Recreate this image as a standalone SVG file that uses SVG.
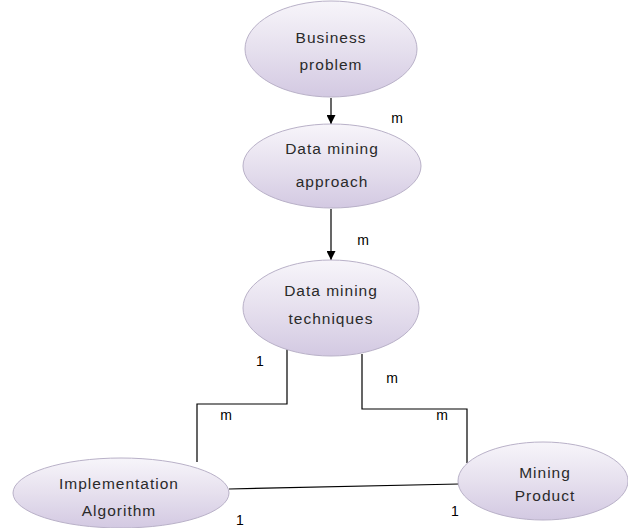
<svg xmlns="http://www.w3.org/2000/svg" width="628" height="528" viewBox="0 0 628 528">
<defs>
<linearGradient id="g" x1="0" y1="0" x2="0" y2="1">
<stop offset="0" stop-color="#f7f5fa"/>
<stop offset="0.5" stop-color="#e6e0ee"/>
<stop offset="1" stop-color="#d3c9e2"/>
</linearGradient>
<marker id="arr" viewBox="0 0 10 10" refX="10" refY="5" markerWidth="9" markerHeight="9" markerUnits="userSpaceOnUse" orient="auto">
<path d="M0,0 L10,5 L0,10 Z" fill="#000"/>
</marker>
<style>
.n{fill:url(#g);stroke:#b9b1c8;stroke-width:1}
.t{font-family:"Liberation Sans",Arial,sans-serif;font-size:15.5px;letter-spacing:1px;fill:#2a2a2a;text-anchor:middle;dominant-baseline:central}
.l{font-family:"Liberation Sans",Arial,sans-serif;font-size:14px;fill:#000;text-anchor:middle;dominant-baseline:central}
.c{fill:none;stroke:#000;stroke-width:1.2}
</style>
</defs>
<rect width="628" height="528" fill="#fff"/>
<g id="connectors">
<line class="c" x1="331" y1="98" x2="331" y2="124" marker-end="url(#arr)"/>
<line class="c" x1="331" y1="209" x2="331" y2="260" marker-end="url(#arr)"/>
<polyline class="c" points="287,349 287,404 197,404 197,462"/>
<polyline class="c" points="362,354 362,409 467,409 467,463"/>
<line class="c" x1="229" y1="489" x2="459" y2="484"/>
</g>
<g id="labels">
<text class="l" x="397" y="118">m</text>
<text class="l" x="363" y="240">m</text>
<text class="l" x="260" y="361">1</text>
<text class="l" x="392" y="378">m</text>
<text class="l" x="226" y="415">m</text>
<text class="l" x="442" y="415">m</text>
<text class="l" x="240" y="520">1</text>
<text class="l" x="455" y="511">1</text>
</g>
<g id="business-problem">
<ellipse class="n" cx="331" cy="49" rx="86" ry="48"/>
<text class="t" x="331" y="37">Business</text>
<text class="t" x="331" y="64">problem</text>
</g>
<g id="data-mining-approach">
<ellipse class="n" cx="332" cy="166" rx="89" ry="42"/>
<text class="t" x="332" y="148">Data mining</text>
<text class="t" x="332" y="181">approach</text>
</g>
<g id="data-mining-techniques">
<ellipse class="n" cx="331" cy="308" rx="88" ry="48"/>
<text class="t" x="331" y="290">Data mining</text>
<text class="t" x="331" y="318">techniques</text>
</g>
<g id="implementation-algorithm">
<ellipse class="n" cx="121" cy="493" rx="108" ry="35"/>
<text class="t" x="119" y="483">Implementation</text>
<text class="t" x="119" y="510">Algorithm</text>
</g>
<g id="mining-product">
<ellipse class="n" cx="543" cy="481" rx="85" ry="39"/>
<text class="t" x="545" y="472">Mining</text>
<text class="t" x="545" y="495">Product</text>
</g>
</svg>
